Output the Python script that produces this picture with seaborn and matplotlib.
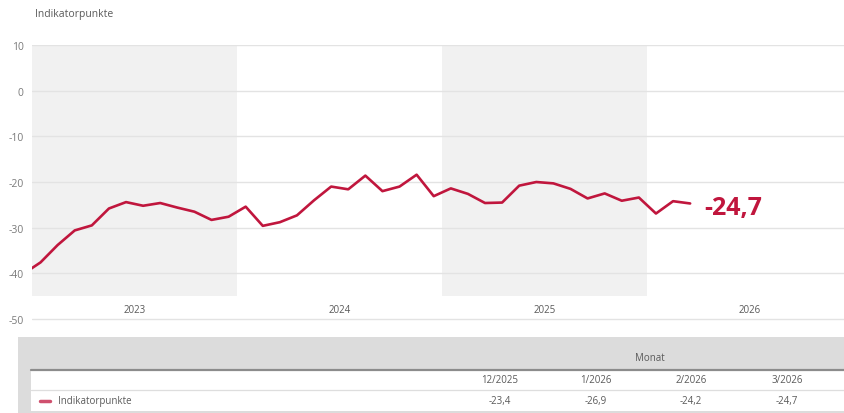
import matplotlib
matplotlib.use("Agg")
import matplotlib.pyplot as plt
import seaborn as sns
import pandas as pd

# monthly values, Dec 2022 .. Mar 2026 (Indikatorpunkte)
months = pd.period_range("2022-12", "2026-03", freq="M")
values = [-40.1,
          -37.6, -33.8, -30.6, -29.5, -25.8, -24.4, -25.2, -24.6, -25.6, -26.5, -28.3, -27.6,
          -25.4, -29.6, -28.8, -27.3, -24.0, -21.0, -21.6, -18.6, -22.0, -21.0, -18.4, -23.1,
          -21.4, -22.6, -24.6, -24.5, -20.8, -20.0, -20.3, -21.5, -23.6, -22.5, -24.1, -23.4,
          -26.9, -24.2, -24.7]
years = [2023, 2024, 2025, 2026]
shaded_years = [2023, 2025]
table_cols = ["12/2025", "1/2026", "2/2026", "3/2026"]
table_vals = values[-4:]
series_name = "Indikatorpunkte"

red = "#c0163d"
grey_txt = "#5a5a5a"
tick_grey = "#7a7a7a"

def de(v):
    return f"{v:.1f}".replace(".", ",")

# x position: months since Jan 2023, placed mid-month
df = pd.DataFrame({
    "x": [(p.year - 2023) * 12 + p.month - 1 + 0.5 for p in months],
    "value": values,
})

sns.set_style("white")
plt.rcParams["font.family"] = ["Open Sans", "DejaVu Sans"]

fig = plt.figure(figsize=(8.44, 4.14), dpi=100)
ax = fig.add_axes([32 / 844, 1 - 322.3 / 414, 1 - 32 / 844, 276.3 / 414])

for y in shaded_years:
    s = (y - 2023) * 12
    ax.fill_between([s, s + 12], -45, 10, color="#f1f1f1", lw=0, zorder=0)

sns.lineplot(data=df, x="x", y="value", ax=ax, color=red, lw=1.9, zorder=3,
             solid_capstyle="round", solid_joinstyle="round")

ax.set_xlim(0, 47.5)
ax.set_ylim(-50.5, 10)
ax.set_yticks(range(-50, 11, 10))
ax.set_yticklabels([str(t) for t in range(-50, 11, 10)], fontsize=7.5, color=tick_grey)
ax.tick_params(axis="y", length=0, pad=6)
ax.set_xticks([])
ax.grid(axis="y", color="#e3e3e3", lw=1, zorder=1)
ax.set_axisbelow(True)
for sp in ax.spines.values():
    sp.set_visible(False)
ax.set_xlabel("")
ax.set_ylabel("")

for i, y in enumerate(years):
    ax.text(i * 12 + 6, -47.9, str(y), ha="center", va="center", fontsize=7, color=grey_txt)

last = df.iloc[-1]
ax.text(last["x"] + 0.8, last["value"] - 0.9, de(last["value"]), ha="left", va="center",
        fontsize=18, fontweight="bold", color=red)

fig.text(35 / 844, 1 - 15 / 414, series_name, ha="left", va="center", fontsize=7.5, color=grey_txt)

# table below the chart, laid out in pixel units
tb = fig.add_axes([0, 0, 1, 1], zorder=-1)
tb.set_xlim(0, 844)
tb.set_ylim(414, 0)
tb.axis("off")
tb.add_patch(plt.Rectangle((18, 338), 826, 80, color="#dcdcdc", lw=0))
tb.add_patch(plt.Rectangle((31, 371), 813, 41, color="white", lw=0))
tb.plot([31, 844], [370.5, 370.5], color="#8c8c8c", lw=1.6)
tb.plot([31, 844], [391, 391], color="#dedede", lw=0.9)
tb.text(650, 359, "Monat", ha="center", va="center", fontsize=7, color=grey_txt)
col_x = [500, 596, 691, 787]
for cx, c, v in zip(col_x, table_cols, table_vals):
    tb.text(cx, 381, c, ha="center", va="center", fontsize=7, color=grey_txt)
    tb.text(cx, 402, de(v), ha="center", va="center", fontsize=7, color=grey_txt)
tb.plot([40, 50], [402, 402], color=red, lw=2.5, alpha=0.75)
tb.text(58, 402, series_name, ha="left", va="center", fontsize=7, color=grey_txt)

fig.savefig("out.png", dpi=100)
